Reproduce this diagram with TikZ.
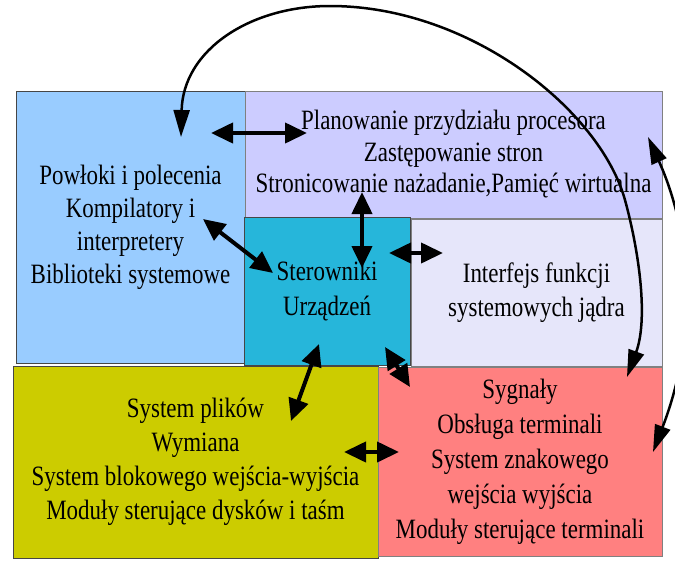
\documentclass[tikz,border=0pt]{standalone}
\usepackage{fontspec}
\setmainfont{Liberation Serif}[FakeStretch=0.82]
\usetikzlibrary{arrows.meta}

\definecolor{shellblue}{RGB}{153,204,255}
\definecolor{schedlilac}{RGB}{204,204,255}
\definecolor{drvteal}{RGB}{38,182,218}
\definecolor{apilav}{RGB}{230,230,250}
\definecolor{fsolive}{RGB}{204,204,0}
\definecolor{termred}{RGB}{255,128,128}
\definecolor{edge}{RGB}{70,70,70}

\tikzset{
  box/.style={draw=edge, line width=1pt, inner sep=0pt, align=center,
    text=black, font=\fontsize{28}{33}\selectfont},
  link/.style={line width=4pt,
    {Triangle[length=22pt,width=20pt]}-{Triangle[length=22pt,width=20pt]}},
  farlink/.style={line width=2.5pt,
    {Triangle[length=27pt,width=16pt]}-{Triangle[length=27pt,width=16pt]}},
}

\begin{document}
\begin{tikzpicture}[x=1pt,y=-1pt]
\useasboundingbox (0,0) rectangle (675,560);
\clip (0,0) rectangle (675,560);

% layer blocks
\node[box, fill=shellblue, minimum width=229pt, minimum height=272pt] (shell) at (130.5,227)
  {Powłoki i polecenia\\Kompilatory i\\interpretery\\Biblioteki systemowe};
\node[box, fill=schedlilac, draw=gray, minimum width=417pt, minimum height=127pt,
  font=\fontsize{28}{31.5}\selectfont] (sched) at (453.5,154.5)
  {Planowanie przydziału procesora\\Zastępowanie stron\\Stronicowanie nażadanie,Pamięć wirtualna};
\node[box, fill=drvteal, minimum width=166pt, minimum height=148pt,
  font=\fontsize{28}{35}\selectfont] (drv) at (327,291)
  {Sterowniki\\Urządzeń};
\node[box, fill=apilav, draw=gray, minimum width=251pt, minimum height=147pt,
  font=\fontsize{28}{34}\selectfont] (api) at (536.5,292.5)
  {Interfejs funkcji\\systemowych jądra};
\node[box, fill=fsolive, minimum width=365pt, minimum height=192pt,
  font=\fontsize{28}{34}\selectfont] (fs) at (195.5,462)
  {System plików\\Wymiana\\System blokowego wejścia-wyjścia\\Moduły sterujące dysków i taśm};
\node[box, fill=termred, draw=gray, minimum width=284pt, minimum height=189pt,
  font=\fontsize{28}{35}\selectfont] (term) at (520,461.5)
  {Sygnały\\Obsługa terminali\\System znakowego\\wejścia wyjścia\\Moduły sterujące terminali};

% end points of the short links
\coordinate (a1) at (211,133);  \coordinate (a2) at (307,133);
\coordinate (b1) at (203,219);  \coordinate (b2) at (273,273);
\coordinate (c1) at (362,192);  \coordinate (c2) at (362,268);
\coordinate (d1) at (389,253);  \coordinate (d2) at (443,253);
\coordinate (e1) at (319,344);  \coordinate (e2) at (291,421);
\coordinate (f1) at (385,347);  \coordinate (f2) at (410,387);
\coordinate (g1) at (344,452);  \coordinate (g2) at (399,452);

\draw[link] (a1) -- (a2);
\draw[link] (b1) -- (b2);
\draw[link] (c1) -- (c2);
\draw[link] (d1) -- (d2);
\draw[link] (e1) -- (e2);
\draw[link] (f1) -- (f2);
\draw[link] (g1) -- (g2);

% long curved links
\coordinate (p1) at (181,137);
\coordinate (p2) at (627,377);
\coordinate (q1) at (648,137);
\coordinate (q2) at (653,452);

\draw[farlink] (p1) .. controls (183,50) and (250,6) .. (330,6)
  .. controls (470,6) and (600,110) .. (625,200)
  .. controls (640,255) and (648,320) .. (p2);
\draw[farlink] (q1) .. controls (690,230) and (700,330) .. (q2);
\end{tikzpicture}
\end{document}
